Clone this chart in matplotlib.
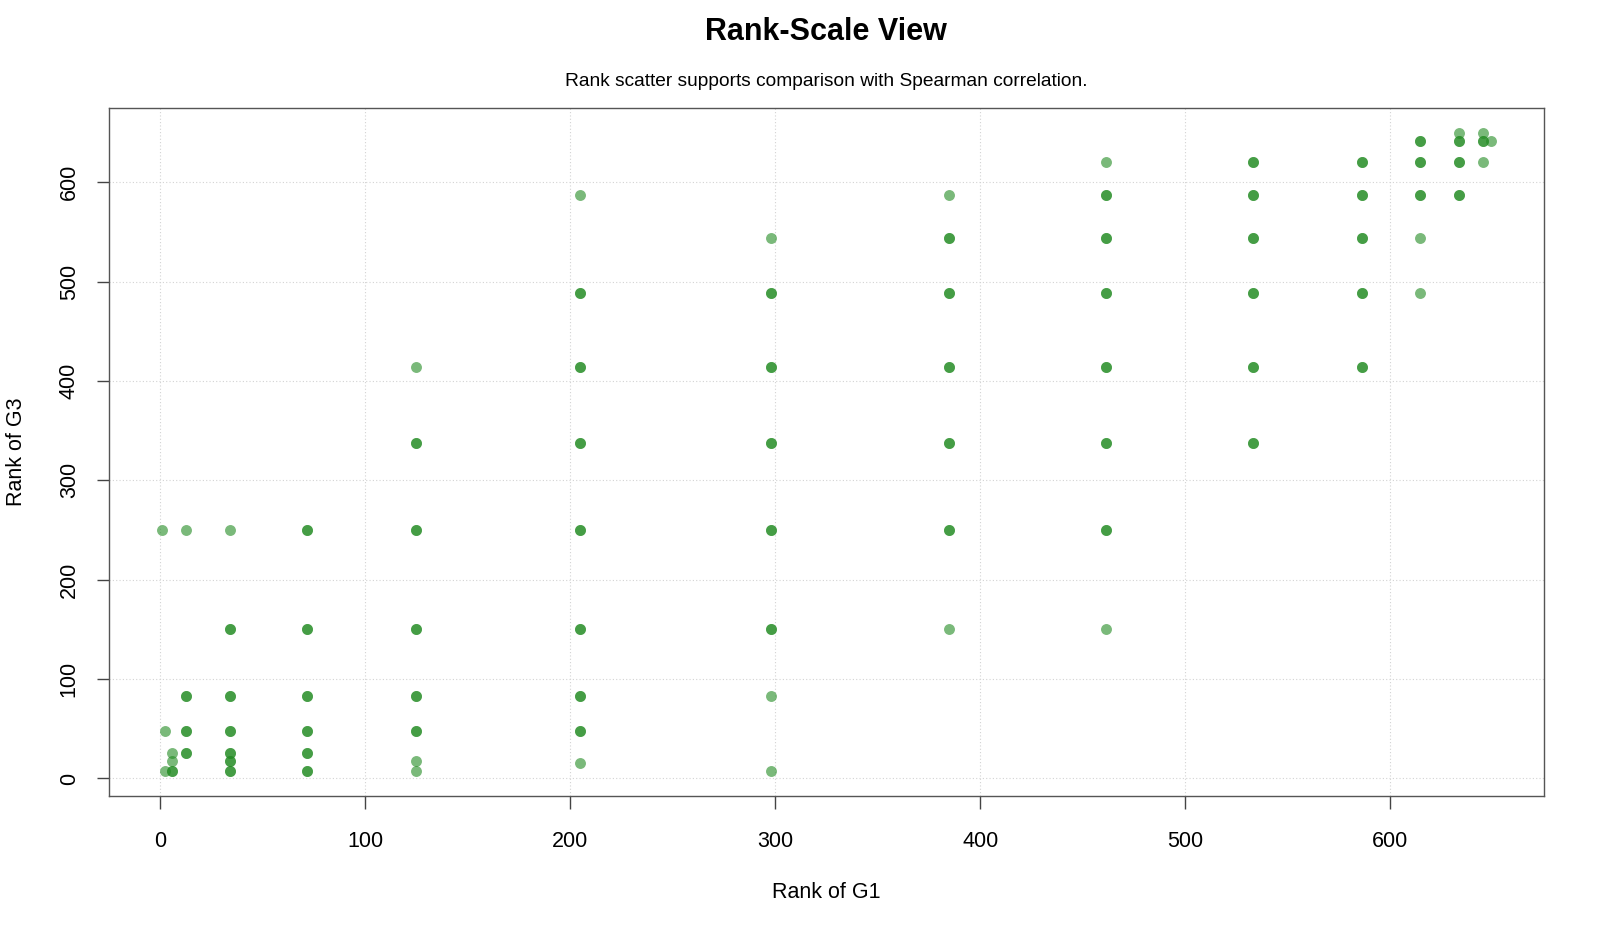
import numpy as np
import matplotlib
matplotlib.use("Agg")
import matplotlib.pyplot as plt

plt.rcParams['font.family'] = ['Liberation Sans', 'DejaVu Sans']

# Rangplätze G1 / G3 (Durchschnittsränge bei Bindungen) und Anzahl überlappender Schüler
g1_rank = [1, 2.5, 2.5, 6, 6, 6,
           12.5, 12.5, 12.5, 12.5,
           34, 34, 34, 34, 34, 34, 34,
           71.5, 71.5, 71.5, 71.5, 71.5, 71.5,
           125, 125, 125, 125, 125, 125, 125, 125,
           205, 205, 205, 205, 205, 205, 205, 205, 205,
           298, 298, 298, 298, 298, 298, 298, 298,
           384.5, 384.5, 384.5, 384.5, 384.5, 384.5, 384.5,
           461.5, 461.5, 461.5, 461.5, 461.5, 461.5, 461.5, 461.5,
           533, 533, 533, 533, 533, 533,
           586, 586, 586, 586, 586,
           614.5, 614.5, 614.5, 614.5, 614.5,
           633.5, 633.5, 633.5, 633.5,
           645, 645, 645,
           649]
g3_rank = [250, 48, 8, 26, 18, 8,
           250, 83, 48, 26,
           250, 150, 83, 48, 26, 18, 8,
           250, 150, 83, 48, 26, 8,
           414, 338, 250, 150, 83, 48, 18, 8,
           587, 488, 414, 338, 250, 150, 83, 48, 16,
           544, 488, 414, 338, 250, 150, 83, 8,
           587, 544, 488, 414, 338, 250, 150,
           620, 587, 544, 488, 414, 338, 250, 150,
           620, 587, 544, 488, 414, 338,
           620, 587, 544, 488, 414,
           641, 620, 587, 544, 488,
           649, 641, 620, 587,
           649, 641, 620,
           641]
n_students = [1, 1, 1, 1, 1, 2,
              1, 2, 2, 2,
              1, 2, 2, 2, 2, 2, 2,
              2, 2, 2, 2, 2, 2,
              1, 2, 2, 2, 2, 2, 1, 1,
              1, 2, 2, 2, 2, 2, 2, 2, 1,
              1, 2, 2, 2, 2, 2, 1, 1,
              1, 2, 2, 2, 2, 2, 1,
              1, 2, 2, 2, 2, 2, 2, 1,
              2, 2, 2, 2, 2, 2,
              2, 2, 2, 2, 2,
              2, 2, 2, 1, 1,
              1, 2, 2, 2,
              1, 2, 1,
              1]

x = np.repeat(g1_rank, n_students)
y = np.repeat(g3_rank, n_students)

fig = plt.figure(figsize=(16, 9.33), dpi=100)
ax = fig.add_axes([0.068125, 0.14684, 0.896875, 0.7374])

ax.scatter(x, y, s=62, color='forestgreen', alpha=0.6, linewidths=0, zorder=3)

# R-Stil: 4% Erweiterung der Achsen
xr = max(g1_rank) - min(g1_rank)
yr = max(g3_rank) - min(g3_rank)
ax.set_xlim(min(g1_rank) - 0.04 * xr, max(g1_rank) + 0.04 * xr)
ax.set_ylim(min(g3_rank) - 0.04 * yr, max(g3_rank) + 0.04 * yr)

ticks = [0, 100, 200, 300, 400, 500, 600]
ax.set_xticks(ticks)
ax.set_yticks(ticks)
ax.set_yticklabels([str(t) for t in ticks], rotation=90, va='center')
ax.tick_params(axis='both', direction='out', length=9, width=1, color='#444444',
               labelsize=15.5, pad=12)
ax.tick_params(axis='x', pad=16)
ax.grid(True, color='#d3d3d3', linestyle=(0, (1, 2)), linewidth=0.8, zorder=0)
for sp in ax.spines.values():
    sp.set_color('#555555')
    sp.set_linewidth(1)

fig.text(0.5165, 1 - 32 / 933, "Rank-Scale View", ha='center', va='center',
         fontsize=22, fontweight='bold')
fig.text(0.5165, 1 - 82 / 933, "Rank scatter supports comparison with Spearman correlation.",
         ha='center', va='center', fontsize=13.75)
fig.text(0.5165, 1 - 892 / 933, "Rank of G1", ha='center', va='center', fontsize=15.5)
fig.text(17 / 1600, 0.5 * (0.14684 + 0.88424), "Rank of G3", ha='center', va='center',
         fontsize=15.5, rotation=90)

fig.savefig("out.png", dpi=100)
